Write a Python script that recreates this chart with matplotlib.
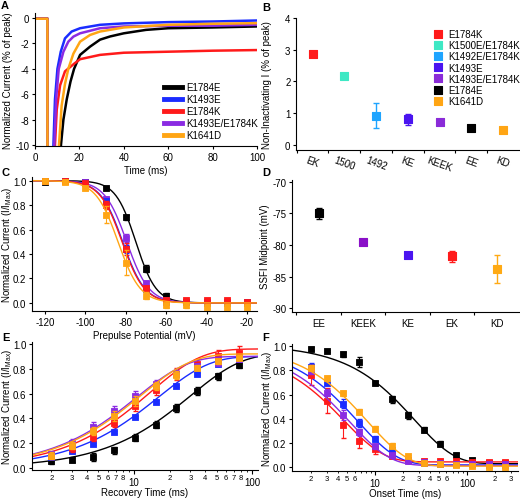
import numpy as np
import matplotlib.pyplot as plt
from matplotlib.markers import MarkerStyle

plt.rcParams['font.family'] = ['Liberation Sans', 'DejaVu Sans']
plt.rcParams['mathtext.fontset'] = 'custom'
plt.rcParams['mathtext.rm'] = 'Liberation Sans'
plt.rcParams['mathtext.it'] = 'Liberation Sans:italic'
plt.rcParams['axes.unicode_minus'] = False
plt.rcParams['axes.linewidth'] = 0.8
plt.rcParams['xtick.major.width'] = 0.8
plt.rcParams['ytick.major.width'] = 0.8
plt.rcParams['xtick.minor.width'] = 0.6
plt.rcParams['xtick.major.size'] = 2.5
plt.rcParams['ytick.major.size'] = 2.5
plt.rcParams['xtick.minor.size'] = 1.5
plt.rcParams['xtick.major.pad'] = 2
plt.rcParams['ytick.major.pad'] = 1.5
plt.rcParams['xtick.labelsize'] = 7
plt.rcParams['ytick.labelsize'] = 7
plt.rcParams['axes.labelsize'] = 7

# colours per construct
c_EE = '#000000'
c_KE = '#1a2cff'
c_EK = '#ff1a1a'
c_KEEK = '#8a2be2'
c_KD = '#ffa514'

# ---- A: current traces ----
tA_EE = [0, 5.6, 5.8, 6.5, 11.7, 12.8, 14.3, 16.0, 17.6, 20.3, 24.8, 29.3, 33.8, 40, 50, 60, 80, 100]
yA_EE = [-0.05, -0.05, -100, -100, -10, -8.0, -6.4, -5.0, -4.0, -2.9, -2.25, -1.7, -1.45, -1.2, -0.93, -0.8, -0.74, -0.66]
tA_KE = [0, 5.6, 5.8, 6.5, 8.3, 9.0, 10.1, 11.6, 13.5, 16.5, 20.3, 29.3, 40, 60, 80, 100]
yA_KE = [-0.05, -0.05, -100, -100, -10, -6.4, -4.0, -2.65, -1.6, -1.06, -0.8, -0.53, -0.42, -0.32, -0.27, -0.19]
tA_EK = [0, 5.6, 5.8, 6.5, 9.0, 9.8, 11.3, 13.5, 17.6, 20.3, 29.3, 40, 60, 80, 100]
yA_EK = [-0.05, -0.05, -100, -100, -10, -7.2, -5.3, -4.2, -3.6, -3.24, -2.9, -2.73, -2.65, -2.57, -2.52]
tA_KEEK = [0, 5.6, 5.8, 6.5, 8.7, 9.5, 10.7, 12.8, 15.0, 17.3, 20.3, 29.3, 40, 60, 80, 100]
yA_KEEK = [-0.05, -0.05, -100, -100, -10, -6.4, -4.0, -2.65, -1.86, -1.46, -1.2, -0.8, -0.66, -0.61, -0.6, -0.53]
tA_KD = [0, 5.6, 5.8, 6.5, 10.8, 12.0, 13.5, 15.0, 17.3, 20.3, 24.8, 29.3, 40, 60, 80, 100]
yA_KD = [-0.05, -0.05, -100, -100, -10, -6.9, -5.2, -4.0, -2.8, -1.86, -1.33, -1.06, -0.74, -0.53, -0.45, -0.4]

# ---- B: non-inactivating current ----
B_labels = ['EK', '1500', '1492', 'KE', 'KEEK', 'EE', 'KD']
B_names = ['E1784K', 'K1500E/E1784K', 'K1492E/E1784K', 'K1493E', 'K1493E/E1784K', 'E1784E', 'K1641D']
B_vals = [2.87, 2.17, 0.92, 0.81, 0.73, 0.52, 0.47]
B_err = [0.10, 0.05, 0.39, 0.18, 0.06, 0.03, 0.04]
B_colors = ['#ff1a1a', '#3ee8c4', '#1ea4ff', '#4a14f0', '#8a2bd8', '#000000', '#ffa514']

# ---- C: steady-state inactivation ----
volts = [-120, -110, -100, -90, -80, -70, -60, -50, -40, -30, -20]
C_EE = [0.99, 1.0, 0.99, 0.94, 0.70, 0.28, 0.06, 0.01, 0.0, 0.0, 0.0]
C_EE_err = [0.01, 0.01, 0.01, 0.01, 0.02, 0.03, 0.02, 0.01, 0.01, 0.01, 0.01]
C_KEEK = [1.0, 1.0, 0.99, 0.85, 0.53, 0.16, 0.02, 0.01, 0.0, 0.0, 0.0]
C_KEEK_err = [0.01, 0.01, 0.01, 0.02, 0.03, 0.02, 0.01, 0.01, 0.01, 0.01, 0.01]
C_KE = [1.0, 1.0, 0.98, 0.83, 0.44, 0.11, 0.01, 0.01, 0.01, 0.01, 0.01]
C_KE_err = [0.01, 0.01, 0.01, 0.02, 0.03, 0.02, 0.01, 0.01, 0.01, 0.01, 0.01]
C_EK = [1.0, 1.0, 0.98, 0.80, 0.44, 0.12, 0.02, 0.02, 0.02, 0.02, 0.01]
C_EK_err = [0.01, 0.01, 0.01, 0.03, 0.05, 0.02, 0.01, 0.01, 0.01, 0.01, 0.01]
C_KD = [1.0, 0.99, 0.94, 0.72, 0.33, 0.06, -0.02, -0.02, -0.03, -0.03, -0.03]
C_KD_err = [0.01, 0.01, 0.02, 0.07, 0.10, 0.03, 0.02, 0.02, 0.02, 0.02, 0.02]
# Boltzmann fit parameters (V1/2 as in D, slope k)
C_vhalf = [-75.0, -79.5, -81.5, -81.8, -83.8]
C_slope = [5.0, 5.5, 5.5, 5.5, 5.5]

# ---- D: SSFI midpoints ----
D_labels = ['EE', 'KEEK', 'KE', 'EK', 'KD']
D_vals = [-75.0, -79.5, -81.5, -81.8, -83.8]
D_err = [0.85, 0.3, 0.3, 0.9, 2.2]
D_colors = ['#000000', '#8a10c8', '#4a14f0', '#ff1a1a', '#ffaa14']

# ---- E: recovery from inactivation ----
E_t = [2, 3, 4.5, 6.75, 10.1, 15.2, 22.8, 34.2, 51.3, 76.9]
E_EE = [0.053, 0.066, 0.09, 0.143, 0.244, 0.35, 0.483, 0.62, 0.74, 0.833]
E_EE_err = [0.02, 0.02, 0.03, 0.03, 0.03, 0.03, 0.03, 0.03, 0.03, 0.03]
E_KE = [0.09, 0.135, 0.195, 0.29, 0.41, 0.536, 0.663, 0.76, 0.84, 0.88]
E_KE_err = [0.01, 0.01, 0.01, 0.01, 0.01, 0.01, 0.01, 0.01, 0.01, 0.01]
E_EK = [0.10, 0.16, 0.25, 0.36, 0.50, 0.63, 0.76, 0.84, 0.90, 0.93]
E_EK_err = [0.03, 0.03, 0.03, 0.03, 0.04, 0.04, 0.05, 0.04, 0.05, 0.05]
E_KEEK = [0.11, 0.20, 0.33, 0.46, 0.58, 0.68, 0.76, 0.82, 0.85, 0.88]
E_KEEK_err = [0.03, 0.03, 0.04, 0.04, 0.04, 0.03, 0.03, 0.02, 0.02, 0.02]
E_KD = [0.10, 0.18, 0.30, 0.42, 0.54, 0.66, 0.75, 0.81, 0.86, 0.89]
E_KD_err = [0.03, 0.03, 0.03, 0.04, 0.04, 0.03, 0.03, 0.02, 0.02, 0.02]
# exponential fit parameters: amplitude, tau (ms)
E_amp = [0.92, 0.90, 0.96, 0.90, 0.92]
E_tau = [30.0, 16.0, 13.6, 10.5, 11.3]

# ---- F: onset of inactivation ----
F_t = [2, 3, 4.5, 6.75, 10.1, 15.2, 22.8, 34.2, 51.3, 76.9, 115, 173, 259]
F_EE = [0.978, 0.96, 0.93, 0.865, 0.695, 0.56, 0.43, 0.31, 0.195, 0.10, 0.06, 0.04, 0.038]
F_EE_err = [0.01, 0.01, 0.02, 0.04, 0.02, 0.03, 0.03, 0.02, 0.02, 0.02, 0.01, 0.01, 0.01]
F_KE = [0.83, 0.695, 0.525, 0.365, 0.235, 0.14, 0.06, 0.035, 0.03, 0.03, 0.03, 0.02, 0.02]
F_KE_err = [0.03, 0.02, 0.04, 0.03, 0.02, 0.02, 0.01, 0.01, 0.01, 0.01, 0.01, 0.01, 0.01]
F_EK = [0.76, 0.55, 0.345, 0.22, 0.15, 0.095, 0.06, 0.05, 0.05, 0.05, 0.045, 0.045, 0.045]
F_EK_err = [0.08, 0.10, 0.10, 0.06, 0.04, 0.02, 0.02, 0.02, 0.02, 0.02, 0.01, 0.01, 0.01]
F_KEEK = [0.79, 0.615, 0.43, 0.29, 0.175, 0.10, 0.055, 0.045, 0.04, 0.03, 0.025, 0.03, 0.03]
F_KEEK_err = [0.02, 0.03, 0.04, 0.03, 0.02, 0.02, 0.01, 0.01, 0.01, 0.01, 0.01, 0.01, 0.01]
F_KD = [0.82, 0.735, 0.61, 0.46, 0.32, 0.18, 0.095, 0.04, 0.027, 0.02, 0.01, 0.005, 0.0]
F_KD_err = [0.02, 0.02, 0.02, 0.02, 0.02, 0.02, 0.01, 0.01, 0.01, 0.01, 0.01, 0.01, 0.01]
# exponential decay fit parameters: amplitude, tau (ms), offset
F_amp = [0.98, 0.98, 0.925, 0.97, 0.993]
F_tau = [27.0, 6.48, 4.6, 5.35, 8.36]
F_off = [0.03, 0.02, 0.045, 0.015, 0.01]

order_colors = [c_EE, c_KE, c_EK, c_KEEK, c_KD]
sq = MarkerStyle('s', joinstyle='round')


def px_axes(fig, left, top, right, bottom):
    W, H = 520, 502
    return fig.add_axes([left / W, 1 - bottom / H, (right - left) / W, (bottom - top) / H])


def clean(ax):
    ax.spines['top'].set_visible(False)
    ax.spines['right'].set_visible(False)


def log_ticks(ax, labelled):
    ax.set_xscale('log')
    ax.set_xticks([10, 100])
    ax.set_xticklabels(['10', '100'])
    lo, hi = ax.get_xlim()
    minors = [m * d for d in (1, 10, 100) for m in range(2, 10) if lo <= m * d <= hi]
    ax.set_xticks(minors, minor=True)
    ax.set_xticklabels([str(m)[0] if int(str(m)[0]) in labelled else '' for m in minors],
                       minor=True, fontsize=5.5)
    ax.tick_params(axis='x', which='minor', pad=1.5)
    ax.tick_params(axis='x', which='major', pad=2, length=3)


fig = plt.figure(figsize=(5.2, 5.02), dpi=100)

# ---------- A ----------
axA = px_axes(fig, 35, 14, 257, 147)
for t, y, c, lab in [(tA_EE, yA_EE, c_EE, 'E1784E'), (tA_KE, yA_KE, c_KE, 'K1493E'),
                     (tA_EK, yA_EK, c_EK, 'E1784K'), (tA_KEEK, yA_KEEK, c_KEEK, 'K1493E/E1784K'),
                     (tA_KD, yA_KD, c_KD, 'K1641D')]:
    axA.plot(t, y, color=c, lw=1.8, label=lab)
axA.set_xlim(0, 100)
axA.set_ylim(-10.08, 0.4)
axA.set_yticks([0, -2, -4, -6, -8, -10])
axA.set_xticks([0, 20, 40, 60, 80, 100])
axA.set_xlabel('Time (ms)', labelpad=2)
axA.set_ylabel('Normalized Current (% of peak)')
axA.yaxis.set_label_coords(-0.099, 0.5)
leg = axA.legend(loc='lower right', bbox_to_anchor=(1.03, 0.0), frameon=False, fontsize=7,
                 handlelength=1.9, labelspacing=0.2, handletextpad=0.4, borderaxespad=0.2)
for h in leg.get_lines():
    h.set_linewidth(3.5)
clean(axA)

# ---------- B ----------
axB = px_axes(fig, 296, 19, 519, 151)
xb = np.arange(len(B_labels))
for i in range(len(B_labels)):
    axB.errorbar(xb[i], B_vals[i], yerr=B_err[i], fmt='none', ecolor=B_colors[i],
                 elinewidth=1, capsize=2, capthick=1)
    axB.plot(xb[i], B_vals[i], marker=sq, ms=5.5, color=B_colors[i], mew=0.8,
             ls='none', label=B_names[i])
axB.set_xlim(-0.52, 6.5)
axB.set_ylim(-0.16, 4.0)
axB.set_yticks([0, 1, 2, 3, 4])
axB.set_xticks(xb)
axB.set_xticklabels(B_labels, rotation=-20, ha='center', fontsize=7)
axB.tick_params(axis='x', which='major', length=0, pad=3)
axB.set_xticks(np.arange(-0.5, 6.0, 1.0), minor=True)
axB.tick_params(axis='x', which='minor', length=2.5, width=0.8)
axB.set_ylabel('Non-Inactivating I (% of peak)')
axB.yaxis.set_label_coords(-0.108, 0.5)
axB.legend(loc='upper right', bbox_to_anchor=(1.03, 0.96), frameon=False, fontsize=7,
           handlelength=1.0, labelspacing=0.12, handletextpad=0.5, borderaxespad=0.2)
clean(axB)

# ---------- C ----------
axC = px_axes(fig, 32, 178, 257, 312)
vfit = np.linspace(-126, -15, 300)
C_sets = [(C_EE, C_EE_err), (C_KEEK, C_KEEK_err), (C_KE, C_KE_err), (C_EK, C_EK_err), (C_KD, C_KD_err)]
C_cols = [c_EE, c_KEEK, c_KE, c_EK, c_KD]
for (vals, err), col, vh, k in zip(C_sets, C_cols, C_vhalf, C_slope):
    axC.plot(vfit, 1 / (1 + np.exp((vfit - vh) / k)), color=col, lw=1.0)
    axC.errorbar(volts, vals, yerr=err, fmt='none', ecolor=col, elinewidth=0.8, capsize=1.8)
    axC.plot(volts, vals, marker=sq, ms=4, color=col, ls='none', mew=0.6)
axC.set_xlim(-126.4, -15)
axC.set_ylim(-0.066, 1.03)
axC.set_xticks([-120, -100, -80, -60, -40, -20])
axC.set_yticks([0, 0.2, 0.4, 0.6, 0.8, 1.0])
axC.set_yticklabels(['0.0', '0.2', '0.4', '0.6', '0.8', '1.0'])
axC.set_xlabel('Prepulse Potential (mV)', labelpad=2)
axC.set_ylabel('Normalized Current (I/I$_{\\mathrm{Max}}$)')
axC.yaxis.set_label_coords(-0.08, 0.5)
clean(axC)

# ---------- D ----------
axD = px_axes(fig, 292, 181, 519, 313)
xd = np.arange(len(D_labels))
for i in range(len(D_labels)):
    axD.errorbar(xd[i], D_vals[i], yerr=D_err[i], fmt='none', ecolor=D_colors[i],
                 elinewidth=1, capsize=2, capthick=1)
    axD.plot(xd[i], D_vals[i], marker=sq, ms=5.5, color=D_colors[i], mew=0.8, ls='none')
axD.set_xlim(-0.6, 4.5)
axD.set_ylim(-90.6, -69.7)
axD.set_yticks([-90, -85, -80, -75, -70])
axD.set_xticks(xd)
axD.set_xticklabels(D_labels, fontsize=7)
axD.tick_params(axis='x', which='major', length=0, pad=4)
axD.set_xticks(np.arange(-0.5, 4.0, 1.0), minor=True)
axD.tick_params(axis='x', which='minor', length=2.5, width=0.8)
axD.set_ylabel('SSFI Midpoint (mV)')
axD.yaxis.set_label_coords(-0.095, 0.5)
clean(axD)

# ---------- E ----------
axE = px_axes(fig, 32, 343, 258, 471)
tfit = np.logspace(np.log10(1.37), np.log10(112), 300)
E_sets = [(E_EE, E_EE_err), (E_KE, E_KE_err), (E_EK, E_EK_err), (E_KEEK, E_KEEK_err), (E_KD, E_KD_err)]
for (vals, err), col, a, tau in zip(E_sets, order_colors, E_amp, E_tau):
    axE.plot(tfit, a * (1 - np.exp(-tfit / tau)), color=col, lw=1.0)
    axE.errorbar(E_t, vals, yerr=err, fmt='none', ecolor=col, elinewidth=0.8, capsize=1.8)
    axE.plot(E_t, vals, marker=sq, ms=4, color=col, ls='none', mew=0.6)
axE.set_xlim(1.37, 112)
axE.set_ylim(-0.016, 1.016)
log_ticks(axE, [2, 3, 4, 5, 6, 7, 8])
axE.set_yticks([0, 0.2, 0.4, 0.6, 0.8, 1.0])
axE.set_yticklabels(['0.0', '0.2', '0.4', '0.6', '0.8', '1.0'])
axE.set_xlabel('Recovery Time (ms)')
axE.xaxis.set_label_coords(0.5, -0.135)
axE.set_ylabel('Normalized Current (I/I$_{\\mathrm{Max}}$)')
axE.yaxis.set_label_coords(-0.08, 0.5)
clean(axE)

# ---------- F ----------
axF = px_axes(fig, 292, 345, 518, 472)
tfitF = np.logspace(np.log10(1.25), np.log10(360), 300)
F_sets = [(F_EE, F_EE_err), (F_KE, F_KE_err), (F_EK, F_EK_err), (F_KEEK, F_KEEK_err), (F_KD, F_KD_err)]
for (vals, err), col, a, tau, c in zip(F_sets, order_colors, F_amp, F_tau, F_off):
    axF.plot(tfitF, a * np.exp(-tfitF / tau) + c, color=col, lw=1.0)
    axF.errorbar(F_t, vals, yerr=err, fmt='none', ecolor=col, elinewidth=0.8, capsize=1.8)
    axF.plot(F_t, vals, marker=sq, ms=4, color=col, ls='none', mew=0.6)
axF.set_xlim(1.25, 360)
axF.set_ylim(-0.03, 1.016)
log_ticks(axF, [2, 3, 4, 5, 6])
axF.set_yticks([0, 0.2, 0.4, 0.6, 0.8, 1.0])
axF.set_yticklabels(['0.0', '0.2', '0.4', '0.6', '0.8', '1.0'])
axF.set_xlabel('Onset Time (ms)')
axF.xaxis.set_label_coords(0.5, -0.135)
axF.set_ylabel('Normalized Current (I/I$_{\\mathrm{Max}}$)')
axF.yaxis.set_label_coords(-0.08, 0.5)
clean(axF)

# panel letters
for lab, x, y in [('A', 1, 1), ('B', 262, 3), ('C', 2, 168), ('D', 262, 168), ('E', 2, 333), ('F', 262, 333)]:
    fig.text(x / 520, 1 - y / 502, lab, fontsize=8, fontweight='bold', va='top', ha='left')

fig.savefig('out.png', dpi=100)
